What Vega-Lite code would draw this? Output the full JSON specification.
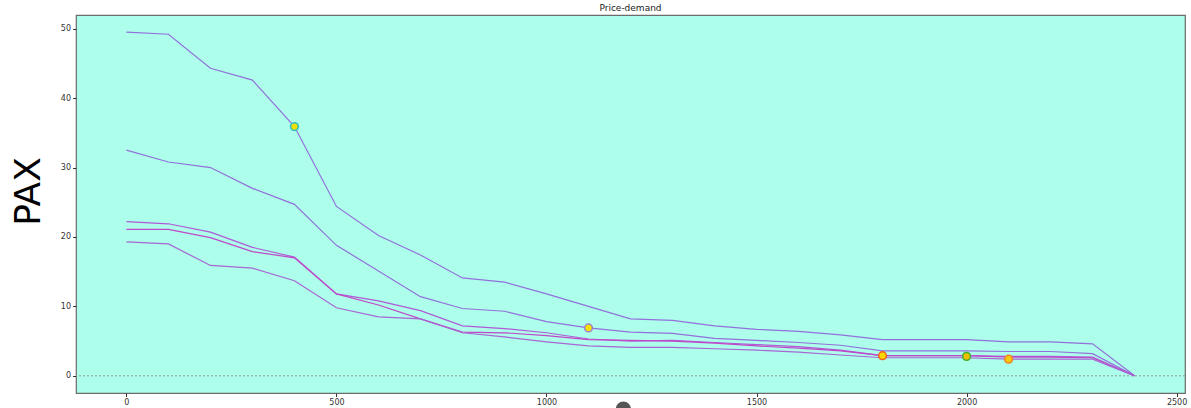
{
  "$schema": "https://vega.github.io/schema/vega-lite/v6.json",
  "width": 1109,
  "height": 378,
  "autosize": {"type": "none"},
  "padding": {"left": 76, "top": 15, "right": 6, "bottom": 15},
  "background": "white",
  "config": {
    "view": {"fill": "#adfeea", "stroke": "#6b6b6b", "strokeWidth": 1.2},
    "font": "DejaVu Sans"
  },
  "title": {"text": "Price-demand", "fontSize": 9, "fontWeight": "normal", "font": "DejaVu Sans", "color": "#222", "offset": 2},
  "datasets": {
    "lines": [
      {"s": "a", "x": 0, "y": 49.5}, {"s": "a", "x": 100, "y": 49.2}, {"s": "a", "x": 200, "y": 44.3}, {"s": "a", "x": 300, "y": 42.6}, {"s": "a", "x": 400, "y": 35.9}, {"s": "a", "x": 500, "y": 24.4}, {"s": "a", "x": 600, "y": 20.2}, {"s": "a", "x": 700, "y": 17.4}, {"s": "a", "x": 800, "y": 14.1}, {"s": "a", "x": 900, "y": 13.5}, {"s": "a", "x": 1000, "y": 11.8}, {"s": "a", "x": 1100, "y": 10.0}, {"s": "a", "x": 1200, "y": 8.2}, {"s": "a", "x": 1300, "y": 8.0}, {"s": "a", "x": 1400, "y": 7.2}, {"s": "a", "x": 1500, "y": 6.7}, {"s": "a", "x": 1600, "y": 6.4}, {"s": "a", "x": 1700, "y": 5.9}, {"s": "a", "x": 1800, "y": 5.2}, {"s": "a", "x": 1900, "y": 5.2}, {"s": "a", "x": 2000, "y": 5.2}, {"s": "a", "x": 2100, "y": 4.9}, {"s": "a", "x": 2200, "y": 4.9}, {"s": "a", "x": 2300, "y": 4.6}, {"s": "a", "x": 2400, "y": 0},
      {"s": "b", "x": 0, "y": 32.5}, {"s": "b", "x": 100, "y": 30.8}, {"s": "b", "x": 200, "y": 30.0}, {"s": "b", "x": 300, "y": 27.0}, {"s": "b", "x": 400, "y": 24.7}, {"s": "b", "x": 500, "y": 18.8}, {"s": "b", "x": 600, "y": 15.1}, {"s": "b", "x": 700, "y": 11.4}, {"s": "b", "x": 800, "y": 9.7}, {"s": "b", "x": 900, "y": 9.3}, {"s": "b", "x": 1000, "y": 7.8}, {"s": "b", "x": 1100, "y": 6.9}, {"s": "b", "x": 1200, "y": 6.3}, {"s": "b", "x": 1300, "y": 6.1}, {"s": "b", "x": 1400, "y": 5.4}, {"s": "b", "x": 1500, "y": 5.1}, {"s": "b", "x": 1600, "y": 4.8}, {"s": "b", "x": 1700, "y": 4.4}, {"s": "b", "x": 1800, "y": 3.6}, {"s": "b", "x": 1900, "y": 3.6}, {"s": "b", "x": 2000, "y": 3.6}, {"s": "b", "x": 2100, "y": 3.5}, {"s": "b", "x": 2200, "y": 3.5}, {"s": "b", "x": 2300, "y": 3.2}, {"s": "b", "x": 2400, "y": 0},
      {"s": "c", "x": 0, "y": 22.2}, {"s": "c", "x": 100, "y": 21.9}, {"s": "c", "x": 200, "y": 20.7}, {"s": "c", "x": 300, "y": 18.5}, {"s": "c", "x": 400, "y": 17.1}, {"s": "c", "x": 500, "y": 11.8}, {"s": "c", "x": 600, "y": 10.8}, {"s": "c", "x": 700, "y": 9.4}, {"s": "c", "x": 800, "y": 7.2}, {"s": "c", "x": 900, "y": 6.8}, {"s": "c", "x": 1000, "y": 6.2}, {"s": "c", "x": 1100, "y": 5.3}, {"s": "c", "x": 1200, "y": 5.0}, {"s": "c", "x": 1300, "y": 5.1}, {"s": "c", "x": 1400, "y": 4.8}, {"s": "c", "x": 1500, "y": 4.5}, {"s": "c", "x": 1600, "y": 4.2}, {"s": "c", "x": 1700, "y": 3.7}, {"s": "c", "x": 1800, "y": 2.9}, {"s": "c", "x": 1900, "y": 2.9}, {"s": "c", "x": 2000, "y": 2.9}, {"s": "c", "x": 2100, "y": 2.8}, {"s": "c", "x": 2200, "y": 2.8}, {"s": "c", "x": 2300, "y": 2.7}, {"s": "c", "x": 2400, "y": 0},
      {"s": "d", "x": 0, "y": 21.1}, {"s": "d", "x": 100, "y": 21.1}, {"s": "d", "x": 200, "y": 19.9}, {"s": "d", "x": 300, "y": 17.9}, {"s": "d", "x": 400, "y": 17.0}, {"s": "d", "x": 500, "y": 11.8}, {"s": "d", "x": 600, "y": 10.2}, {"s": "d", "x": 700, "y": 8.2}, {"s": "d", "x": 800, "y": 6.3}, {"s": "d", "x": 900, "y": 6.2}, {"s": "d", "x": 1000, "y": 5.8}, {"s": "d", "x": 1100, "y": 5.2}, {"s": "d", "x": 1200, "y": 5.1}, {"s": "d", "x": 1300, "y": 5.0}, {"s": "d", "x": 1400, "y": 4.7}, {"s": "d", "x": 1500, "y": 4.3}, {"s": "d", "x": 1600, "y": 4.0}, {"s": "d", "x": 1700, "y": 3.6}, {"s": "d", "x": 1800, "y": 2.9}, {"s": "d", "x": 1900, "y": 2.9}, {"s": "d", "x": 2000, "y": 2.9}, {"s": "d", "x": 2100, "y": 2.7}, {"s": "d", "x": 2200, "y": 2.7}, {"s": "d", "x": 2300, "y": 2.6}, {"s": "d", "x": 2400, "y": 0},
      {"s": "e", "x": 0, "y": 19.3}, {"s": "e", "x": 100, "y": 19.0}, {"s": "e", "x": 200, "y": 15.9}, {"s": "e", "x": 300, "y": 15.5}, {"s": "e", "x": 400, "y": 13.7}, {"s": "e", "x": 500, "y": 9.8}, {"s": "e", "x": 600, "y": 8.5}, {"s": "e", "x": 700, "y": 8.2}, {"s": "e", "x": 800, "y": 6.2}, {"s": "e", "x": 900, "y": 5.6}, {"s": "e", "x": 1000, "y": 4.9}, {"s": "e", "x": 1100, "y": 4.3}, {"s": "e", "x": 1200, "y": 4.1}, {"s": "e", "x": 1300, "y": 4.1}, {"s": "e", "x": 1400, "y": 3.9}, {"s": "e", "x": 1500, "y": 3.7}, {"s": "e", "x": 1600, "y": 3.4}, {"s": "e", "x": 1700, "y": 3.0}, {"s": "e", "x": 1800, "y": 2.6}, {"s": "e", "x": 1900, "y": 2.6}, {"s": "e", "x": 2000, "y": 2.6}, {"s": "e", "x": 2100, "y": 2.4}, {"s": "e", "x": 2200, "y": 2.4}, {"s": "e", "x": 2300, "y": 2.4}, {"s": "e", "x": 2400, "y": 0}
    ],
    "pts": [
      {"k": "p1", "x": 400, "y": 35.9},
      {"k": "p2", "x": 1100, "y": 6.9},
      {"k": "p3", "x": 1800, "y": 2.9},
      {"k": "p4", "x": 2000, "y": 2.8},
      {"k": "p5", "x": 2100, "y": 2.4}
    ],
    "dot": [{"x": 1183, "y": -4.8}],
    "zero": [{"y": 0}]
  },
  "layer": [
    {
      "data": {"name": "zero"},
      "mark": {"type": "rule", "color": "#8a9a96", "strokeDash": [2, 2], "strokeWidth": 1},
      "encoding": {"y": {"field": "y", "type": "quantitative"}}
    },
    {
      "data": {"name": "lines"},
      "mark": {"type": "line", "strokeWidth": 1.2},
      "encoding": {
        "x": {"field": "x", "type": "quantitative", "scale": {"domain": [-120, 2520], "nice": false, "zero": false},
          "axis": {"values": [0, 500, 1000, 1500, 2000, 2500], "format": "d", "title": null, "grid": false, "labelFontSize": 8, "labelColor": "#333", "tickSize": 3.5, "tickColor": "#333", "domain": false, "labelPadding": 2}},
        "y": {"field": "y", "type": "quantitative", "scale": {"domain": [-2.475, 51.975], "nice": false, "zero": false},
          "axis": {"values": [0, 10, 20, 30, 40, 50], "format": "d", "title": "PAX", "titleFontSize": 36, "titleFontWeight": "normal", "titleColor": "#000", "titleFont": "DejaVu Sans", "titleAngle": 270, "titleAlign": "center", "titleBaseline": "middle", "titleX": -48, "titleY": 176, "grid": false, "labelFontSize": 8, "labelColor": "#333", "tickSize": 3.5, "tickColor": "#333", "domain": false, "labelPadding": 2}},
        "color": {"field": "s", "type": "nominal", "legend": null,
          "scale": {"domain": ["a", "b", "c", "d", "e"], "range": ["#9370db", "#9370db", "#b05ad6", "#c048c8", "#a866d4"]}},
        "detail": {"field": "s"}
      }
    },
    {
      "data": {"name": "pts"},
      "mark": {"type": "point", "filled": true, "size": 60, "strokeWidth": 1.5, "opacity": 1},
      "encoding": {
        "x": {"field": "x", "type": "quantitative"},
        "y": {"field": "y", "type": "quantitative"},
        "fill": {"field": "k", "type": "nominal", "legend": null,
          "scale": {"domain": ["p1", "p2", "p3", "p4", "p5"], "range": ["#f0e000", "#f5e000", "#f8d800", "#f0c000", "#f8c810"]}},
        "stroke": {"field": "k", "type": "nominal", "legend": null,
          "scale": {"domain": ["p1", "p2", "p3", "p4", "p5"], "range": ["#30c0c0", "#a080d0", "#f06020", "#40b030", "#f08020"]}}
      }
    },
    {
      "data": {"name": "dot"},
      "mark": {"type": "point", "filled": true, "size": 232, "color": "#555555", "opacity": 1},
      "encoding": {
        "x": {"field": "x", "type": "quantitative"},
        "y": {"field": "y", "type": "quantitative"}
      }
    }
  ]
}
